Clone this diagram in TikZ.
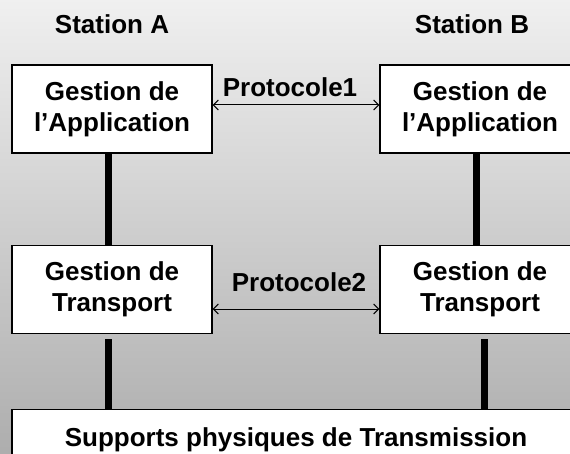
\documentclass[tikz,border=0pt]{standalone}
\usepackage{fontspec}
\setmainfont{Liberation Sans}
\usetikzlibrary{arrows.meta}
\begin{document}
\begin{tikzpicture}[x=1pt,y=-1pt,
  txt/.style={font=\fontsize{26}{31}\selectfont\bfseries, inner sep=0pt},
  layerbox/.style={draw=black, line width=1.3pt, fill=white,
    minimum width=200pt, minimum height=88pt, inner sep=0pt,
    align=center, font=\fontsize{26}{31}\selectfont\bfseries},
  link/.style={line width=7pt},
  proto/.style={{Straight Barb[length=5pt,width=10pt]}-{Straight Barb[length=5pt,width=10pt]},
    line width=1pt}]
  % background
  \useasboundingbox (0,0) rectangle (570,454);
  \clip (0,0) rectangle (570,454);
  \shade[top color=black!6, bottom color=black!32] (0,0) rectangle (570,454);

  % station titles
  \node[txt, anchor=base] (sa) at (112,34) {Station A};
  \node[txt, anchor=base] (sb) at (472,34) {Station B};

  % layers
  \node[layerbox] (A1) at (112,109) {Gestion de\\l’Application};
  \node[layerbox] (B1) at (480,109) {Gestion de\\l’Application};
  \node[layerbox] (A2) at (112,289.5) {Gestion de\\Transport};
  \node[layerbox] (B2) at (480,289.5) {Gestion de\\Transport};
  \node[layerbox, minimum width=568pt, minimum height=60pt, anchor=north]
    (Sup) at (296,409) {Supports physiques de Transmission};

  % vertical links between layers
  \draw[link] ([xshift=-3.5pt]A1.south) -- ([xshift=-3.5pt]A2.north);
  \draw[link] ([xshift=-3.5pt]B1.south) -- ([xshift=-3.5pt]B2.north);
  \coordinate (la) at ([xshift=-3.5pt,yshift=-5pt]A2.south);
  \coordinate (lb) at ([xshift=4.5pt,yshift=-5pt]B2.south);
  \draw[link] (la) -- (la |- Sup.north);
  \draw[link] (lb) -- (lb |- Sup.north);

  % peer protocols
  \draw[proto] ([yshift=4pt]A1.east) -- ([yshift=4pt]B1.west);
  \draw[proto] ([yshift=-19.5pt]A2.east) -- ([yshift=-19.5pt]B2.west);
  \node[txt, anchor=base] (p1) at (290,97) {Protocole1};
  \node[txt, anchor=base] (p2) at (299,291) {Protocole2};
\end{tikzpicture}
\end{document}
